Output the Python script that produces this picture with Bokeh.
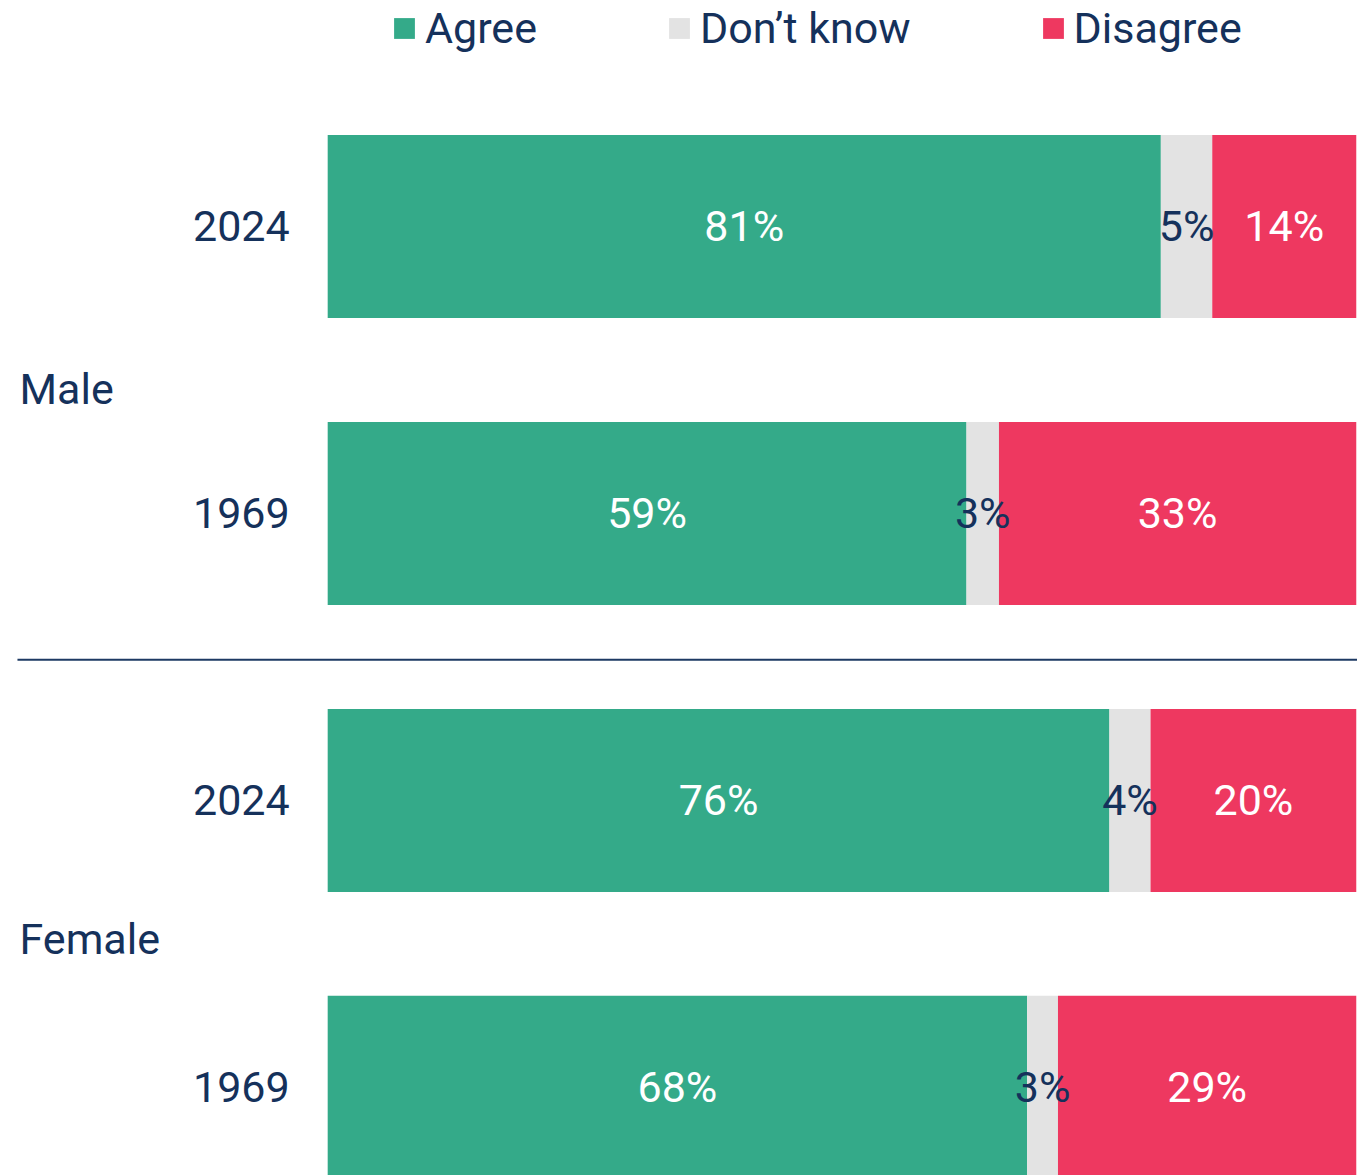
from bokeh.plotting import figure
from bokeh.models import ColumnDataSource, Range1d, Legend, LegendItem
from bokeh.core.properties import value
from bokeh.embed import file_html
from bokeh.resources import INLINE

# ---- data ----
groups = ["Male", "Female"]
years = ["2024", "1969", "2024", "1969"]
agree = [81, 59, 76, 68]
dont_know = [5, 3, 4, 3]
disagree = [14, 33, 20, 29]
series = ["Agree", "Don\u2019t know", "Disagree"]

colors = ["#34aa89", "#e3e3e3", "#ee3860"]
NAVY = "#15315b"
FONT = "Roboto"
FS = "43px"

rows = list(range(len(years)))
tot = [a + d + g for a, d, g in zip(agree, dont_know, disagree)]
a_r = [a / t * 100 for a, t in zip(agree, tot)]
d_r = [ar + d / t * 100 for ar, d, t in zip(a_r, dont_know, tot)]
ends = [100.0 for _ in rows]
starts = [0.0 for _ in rows]

W, H = 1357, 1175
p = figure(width=W, height=H, output_backend="svg", toolbar_location=None,
           x_range=Range1d(-31.81, 100.12), y_range=Range1d(3.307, -0.7875),
           x_axis_type=None, y_axis_type=None, min_border=0)
p.grid.visible = False
p.outline_line_color = None
p.background_fill_color = "white"

src = ColumnDataSource(dict(
    y=rows, s0=starts, s1=a_r, s2=d_r, s3=ends,
    l0=[f"{v}%" for v in agree], l1=[f"{v}%" for v in dont_know], l2=[f"{v}%" for v in disagree],
    c0=[(x0 + x1) / 2 for x0, x1 in zip(starts, a_r)],
    c1=[(x0 + x1) / 2 for x0, x1 in zip(a_r, d_r)],
    c2=[(x0 + x1) / 2 for x0, x1 in zip(d_r, ends)],
    year=years,
))

BH = 0.638
r0 = p.hbar(y="y", left="s0", right="s1", height=BH, source=src, fill_color=colors[0], line_color=None)
r1 = p.hbar(y="y", left="s1", right="s2", height=BH, source=src, fill_color=colors[1], line_color=None)
r2 = p.hbar(y="y", left="s2", right="s3", height=BH, source=src, fill_color=colors[2], line_color=None)

tk = dict(text_font=value(FONT), text_font_size=FS, text_align="center", text_baseline="middle", source=src)
p.text(x="c0", y="y", text="l0", text_color="white", **tk)
p.text(x="c1", y="y", text="l1", text_color=NAVY, **tk)
p.text(x="c2", y="y", text="l2", text_color="white", **tk)

# year labels
p.text(x=-3.7, y="y", text="year", text_color=NAVY, text_font=value(FONT), text_font_size=FS,
       text_align="right", text_baseline="middle", source=src)

# group labels
p.text(x=[-29.96, -29.96], y=[0.565, 2.484], text=groups, text_color=NAVY, text_font=value(FONT),
       text_font_size=FS, text_align="left", text_baseline="middle")

# divider
p.segment(x0=[-30.16], x1=[100.1], y0=[1.51], y1=[1.51], line_color="#1d3a63", line_width=2)

legend = Legend(items=[LegendItem(label=s, renderers=[r]) for s, r in zip(series, [r0, r1, r2])],
                orientation="horizontal", location=(391, 1122), spacing=129,
                glyph_width=26, glyph_height=26, label_standoff=8,
                label_text_font=FONT, label_text_font_size=FS, label_text_color=NAVY,
                padding=0, margin=0, border_line_color=None, background_fill_alpha=0)
p.add_layout(legend)

open("out.html", "w").write(file_html(p, INLINE))
